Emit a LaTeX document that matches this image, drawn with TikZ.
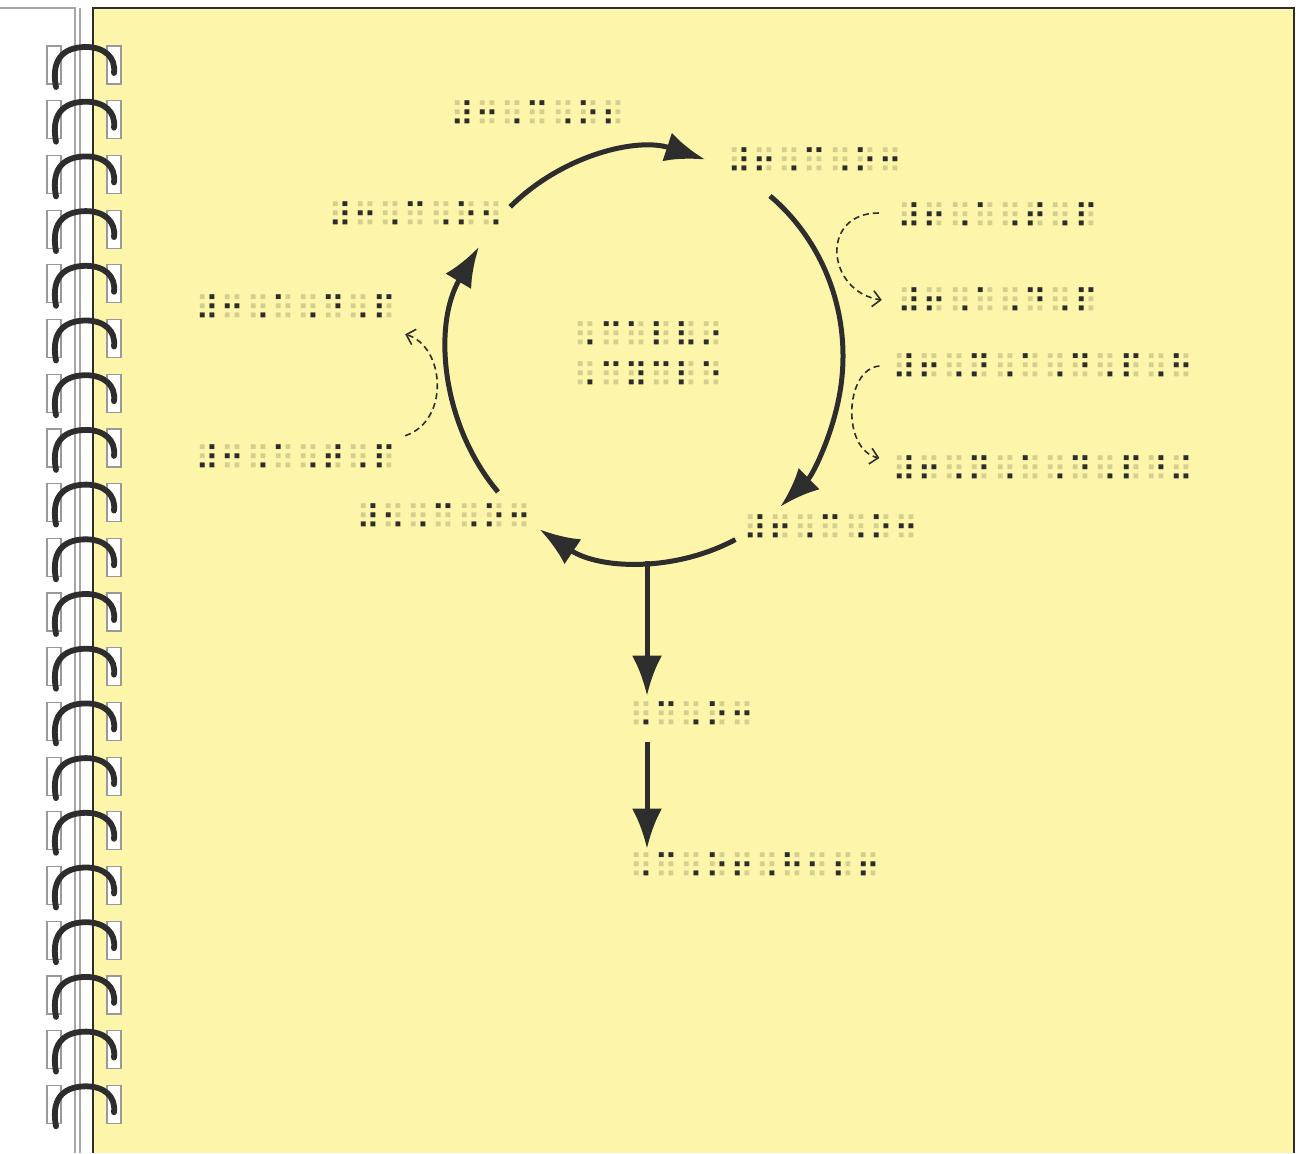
\documentclass[tikz,border=0pt]{standalone}
\usepackage{fontspec}
\usetikzlibrary{arrows.meta,calc}
\newfontfamily\braillefont{DejaVu Sans}
\definecolor{pageyellow}{RGB}{253,246,170}
\definecolor{inkgray}{RGB}{45,45,45}
\colorlet{dotshade}{pageyellow!84!black}
% braille cell with its shadow dots, fixed pitch
\makeatletter
\newcommand{\brl}[1]{\brl@loop#1\relax}
\def\brl@loop#1{\ifx\relax#1\else
  \makebox[12.6pt]{\makebox[0pt]{\textcolor{dotshade}{⠿}}\makebox[0pt]{#1}}%
  \expandafter\brl@loop\fi}
\makeatother
\tikzset{
  pageedge/.style={inkgray, line width=1pt},
  backedge/.style={gray!70, line width=0.6pt},
  slot/.style={draw=gray!80, fill=white, line width=0.6pt},
  ringwire/.style={inkgray, line width=2.9pt, line cap=round},
  brltext/.style={font=\braillefont\fontsize{16.5}{20}\selectfont, text=inkgray, inner sep=0pt},
  cycarrow/.style={inkgray, line width=2.5pt, -{Latex[length=20pt,width=15pt]}},
  outarrow/.style={inkgray, line width=2.5pt, -{Latex[length=20pt,width=15pt]}},
  dasharrow/.style={inkgray, line width=0.8pt, dash pattern=on 3pt off 2pt,
    -{Straight Barb[length=4pt,width=8pt]}},
}

\begin{document}
\begin{tikzpicture}[x=0.5pt, y=-0.5pt]
  \useasboundingbox (0,0) rectangle (1296,1153);
  % ---------------- notebook ----------------
  \draw[backedge] (0,8) -- (75,8) -- (75,1153);
  \draw[backedge] (80,8) -- (80,1153);
  \fill[pageyellow] (93,8) rectangle (1294,1153);
  \draw[pageedge] (93,1153) -- (93,8) -- (1294,8) -- (1294,1153);
  \foreach \i in {0,...,19} {
    \pgfmathsetmacro{\ry}{65+54.7*\i}
    \draw[slot] (47,\ry-19) rectangle (61,\ry+19);
    \draw[slot] (107,\ry-19) rectangle (121,\ry+19);
    \draw[ringwire] (56,\ry+22) .. controls (50,\ry-10) and (68,\ry-18) .. (86,\ry-18)
                    .. controls (104,\ry-18) and (116,\ry-8) .. (114,\ry+8);
  }
  % ---------------- cycle labels ----------------
  \coordinate (cyc) at (646,356);
  \node[brltext] (co2) at (538,114) {\brl{⠼⠒⠠⠉⠠⠕⠆}};
  \node[brltext] (pga) at (815,161) {\brl{⠼⠖⠠⠉⠠⠕⠒}};
  \node[brltext] (rubp) at (416,215) {\brl{⠼⠒⠠⠉⠠⠕⠢}};
  \node[brltext] (atpR) at (998,216) {\brl{⠼⠖⠠⠁⠠⠞⠠⠏}};
  \node[brltext] (adpR) at (998,301) {\brl{⠼⠖⠠⠁⠠⠙⠠⠏}};
  \node[brltext] (adpL) at (296,308) {\brl{⠼⠒⠠⠁⠠⠙⠠⠏}};
  \node[brltext, align=center] (title) at (649,355)
    {\brl{⠠⠉⠁⠇⠧⠔}\\\brl{⠠⠉⠽⠉⠇⠑}};
  \node[brltext] (nadph) at (1043,367) {\brl{⠼⠖⠠⠝⠠⠁⠠⠙⠠⠏⠠⠓}};
  \node[brltext] (nadp) at (1043,469) {\brl{⠼⠖⠠⠝⠠⠁⠠⠙⠠⠏⠘⠬}};
  \node[brltext] (atpL) at (296,458) {\brl{⠼⠒⠠⠁⠠⠞⠠⠏}};
  \node[brltext] (regen) at (444,517) {\brl{⠼⠢⠠⠉⠠⠕⠒}};
  \node[brltext] (gthreep) at (831,528) {\brl{⠼⠖⠠⠉⠠⠕⠒}};
  \node[brltext] (exit) at (692,715) {\brl{⠠⠉⠠⠕⠒}};
  \node[brltext] (sugar) at (755,866) {\brl{⠠⠉⠠⠕⠖⠠⠓⠂⠆⠖}};
  % ---------------- cycle arcs ----------------
  \draw[cycarrow] (cyc) ++(-133.6:197 and 206)
    arc[start angle=-133.6, end angle=-72.5, x radius=197, y radius=206];
  \draw[cycarrow] (cyc) ++(-51:197 and 206)
    arc[start angle=-51, end angle=47, x radius=197, y radius=206];
  \draw[cycarrow] (cyc) ++(63:197 and 206)
    arc[start angle=63, end angle=122.7, x radius=197, y radius=206];
  \draw[cycarrow] (cyc) ++(-221.3:197 and 206)
    arc[start angle=-221.3, end angle=-148, x radius=197, y radius=206];
  % ---------------- output ----------------
  \coordinate (bot) at (647,561);
  \draw[outarrow, shorten >=3pt] (bot) -- (bot |- exit.north);
  \draw[outarrow, shorten <=7pt, shorten >=2pt] (bot |- exit.south) -- (bot |- sugar.north);
  % ---------------- side reactions ----------------
  \draw[dasharrow] ($(atpR.west)+(-18,-3)$) .. controls +(-60,0) and +(-55,-8) .. ($(adpR.west)+(-15,-1)$);
  \draw[dasharrow] ($(nadph.west)+(-12,-1)$) .. controls +(-35,3) and +(-38,-8) .. ($(nadp.west)+(-12,-11)$);
  \draw[dasharrow] ($(atpL.north east)+(8,-9)$) .. controls +(45,-15) and +(40,12) .. ($(adpL.south east)+(8,13)$);
\end{tikzpicture}
\end{document}
